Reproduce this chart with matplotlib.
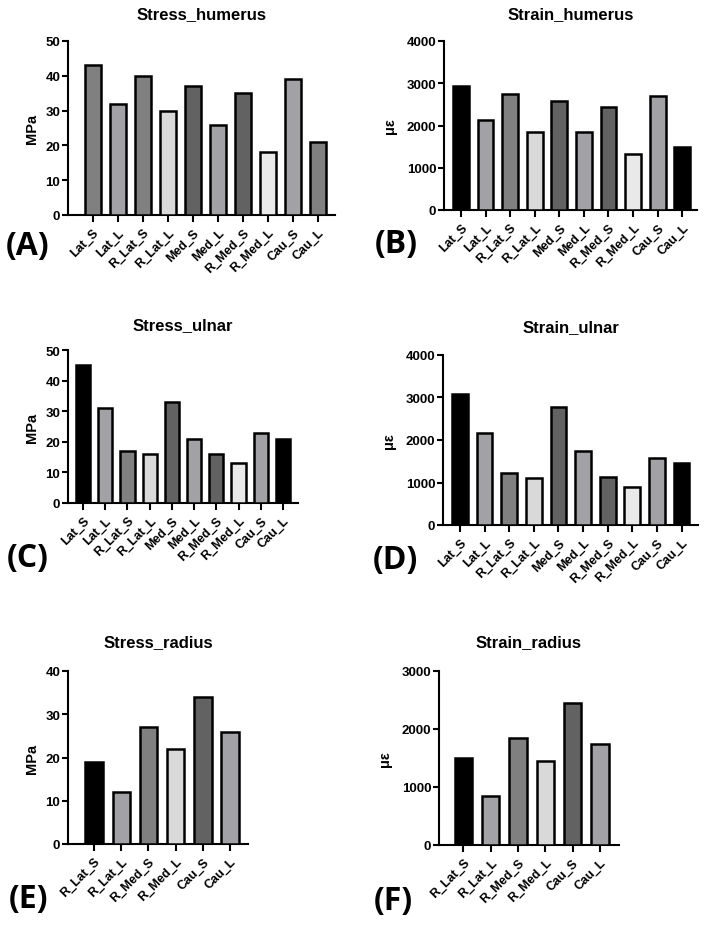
"""
Stress / strain bar panels for humerus, ulna and radius.
"""

import matplotlib
matplotlib.use('Agg')
import matplotlib.pyplot as plt

plt.rcParams['font.family'] = ['Liberation Sans', 'DejaVu Sans']
plt.rcParams['font.weight'] = 'bold'

W, H = 708, 928

# categories
cats_full = ['Lat_S', 'Lat_L', 'R_Lat_S', 'R_Lat_L', 'Med_S',
             'Med_L', 'R_Med_S', 'R_Med_L', 'Cau_S', 'Cau_L']
cats_radius = ['R_Lat_S', 'R_Lat_L', 'R_Med_S', 'R_Med_L', 'Cau_S', 'Cau_L']

# values
stress_humerus = [43, 32, 40, 30, 37, 26, 35, 18, 39, 21]
strain_humerus = [2930, 2120, 2750, 1850, 2570, 1840, 2430, 1320, 2690, 1480]
stress_ulnar = [45, 31, 17, 16, 33, 21, 16, 13, 23, 21]
strain_ulnar = [3090, 2160, 1230, 1100, 2780, 1740, 1140, 900, 1570, 1470]
stress_radius = [19, 12, 27, 22, 34, 26]
strain_radius = [1500, 840, 1850, 1440, 2450, 1750]

# grey shades
K, G60, G80, GA0, GD8, GE8 = '#000000', '#626262', '#808080', '#a1a1a6', '#d9d9d9', '#e9e9e9'
colors_a = [G80, GA0, G80, GD8, G60, GA0, G60, GE8, GA0, G80]
colors_full = [K, GA0, G80, GD8, G60, GA0, G60, GE8, GA0, K]
colors_radius = [K, GA0, G80, GD8, G60, GA0]

fig = plt.figure(figsize=(W / 100, H / 100), dpi=100)
fig.patch.set_facecolor('white')


def panel(box, cats, vals, colors, ymax, ystep, xlim, title, ylabel, letter,
          title_y, letter_xy, ylabel_pad, ylabel_size):
    x0, x1, ytop, ybot = box
    ax = fig.add_axes([x0 / W, 1 - ybot / H, (x1 - x0) / W, (ybot - ytop) / H])
    xs = list(range(len(cats)))
    ax.bar(xs, vals, width=0.64, color=colors, edgecolor='black', linewidth=1.8, zorder=3)
    ax.set_xlim(*xlim)
    ax.set_ylim(0, ymax)
    ax.set_yticks(range(0, ymax + 1, ystep))
    ax.set_xticks(xs)
    ax.set_xticklabels(cats, rotation=45, ha='right', rotation_mode='anchor',
                       fontsize=9, fontweight='bold')
    for lab in ax.get_yticklabels():
        lab.set_fontsize(9.5)
        lab.set_fontweight('bold')
    for s in ['top', 'right']:
        ax.spines[s].set_visible(False)
    for s in ['left', 'bottom']:
        ax.spines[s].set_linewidth(1.5)
    ax.tick_params(axis='both', width=1.5, length=4, pad=1.5)
    ax.tick_params(axis='x', length=5, pad=3)
    ax.set_ylabel(ylabel, fontsize=ylabel_size, fontweight='bold', labelpad=ylabel_pad)
    fig.text((x0 + x1) / 2 / W, 1 - title_y / H, title, ha='center', va='center',
             fontsize=12, fontweight='bold')
    fig.text(letter_xy[0] / W, 1 - letter_xy[1] / H, letter, ha='center', va='center',
             fontsize=23, fontweight='bold', family=['Open Sans', 'DejaVu Sans'])
    return ax


panel((68, 335, 42, 216), cats_full, stress_humerus, colors_a, 50, 10, (-0.98, 9.68),
      'Stress_humerus', 'MPa', '(A)', 15, (28, 246), 5, 10.5)
panel((444, 697, 42, 211), cats_full, strain_humerus, colors_full, 4000, 1000, (-0.69, 9.6),
      'Strain_humerus', 'με', '(B)', 15, (396, 245), 7, 10.5)
panel((68, 298, 351, 504), cats_full, stress_ulnar, colors_full, 50, 10, (-0.68, 9.68),
      'Stress_ulnar', 'MPa', '(C)', 326, (28, 558), 5, 10.5)
panel((443, 698, 356, 526), cats_full, strain_ulnar, colors_full, 4000, 1000, (-0.69, 9.67),
      'Strain_ulnar', 'με', '(D)', 328, (395, 561), 7, 10.5)
panel((68, 248, 672, 845), cats_radius, stress_radius, colors_radius, 40, 10, (-0.96, 5.66),
      'Stress_radius', 'MPa', '(E)', 643, (28, 900), 5, 10.5)
panel((439, 619, 672, 846), cats_radius, strain_radius, colors_radius, 3000, 1000, (-0.89, 5.7),
      'Strain_radius', 'με', '(F)', 643, (393, 902), 7, 10.5)

fig.savefig('out.png', dpi=100, facecolor='white')
